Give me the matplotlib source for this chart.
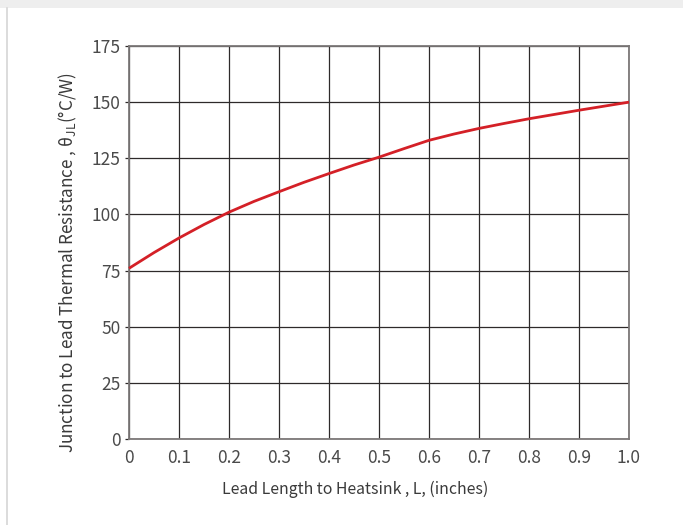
import matplotlib
matplotlib.use("Agg")
import matplotlib.pyplot as plt
from matplotlib.patches import Rectangle
from matplotlib.lines import Line2D

plt.rcParams['font.family'] = ['Noto Sans CJK SC', 'DejaVu Sans']
plt.rcParams['mathtext.fontset'] = 'custom'
plt.rcParams['mathtext.rm'] = 'Noto Sans CJK SC'
plt.rcParams['mathtext.it'] = 'Noto Sans CJK SC'

# Data
lead_length = [0.0, 0.05, 0.1, 0.15, 0.2, 0.25, 0.3, 0.35, 0.4, 0.45, 0.5,
               0.55, 0.6, 0.65, 0.7, 0.75, 0.8, 0.85, 0.9, 0.95, 1.0]
resistance = [76.0, 83.0, 89.5, 95.5, 101.0, 105.8, 110.1, 114.3, 118.2, 122.0, 125.5,
              129.3, 133.0, 135.8, 138.3, 140.5, 142.6, 144.5, 146.4, 148.2, 150.0]
x_ticks = [0, 0.1, 0.2, 0.3, 0.4, 0.5, 0.6, 0.7, 0.8, 0.9, 1.0]
x_tick_labels = ["0", "0.1", "0.2", "0.3", "0.4", "0.5", "0.6", "0.7", "0.8", "0.9", "1.0"]
y_ticks = [0, 25, 50, 75, 100, 125, 150, 175]
y_tick_labels = ["0", "25", "50", "75", "100", "125", "150", "175"]

W, H = 683, 525
fig = plt.figure(figsize=(W / 100, H / 100), dpi=100)

# page decorations (light gray top band and left rule)
fig.patches.append(Rectangle((0, 1 - 8 / H), 1, 8 / H, transform=fig.transFigure,
                             facecolor='#eeeeee', edgecolor='none', zorder=0))
fig.lines.append(Line2D([6.5 / W, 6.5 / W], [0, 1 - 8 / H], transform=fig.transFigure,
                        color='#d6d6d6', lw=1.2))

ax = fig.add_axes([129 / W, 1 - 439 / H, 500 / W, 393 / H])
txt = '#3a3a3a'
tick_txt = '#4a4a4a'

ax.plot(lead_length, resistance, color='#d42027', lw=2.0, solid_capstyle='butt', zorder=5,
        clip_on=False)

ax.set_xlim(0, 1.0)
ax.set_ylim(0, 175)
ax.set_xticks(x_ticks)
ax.set_xticklabels(x_tick_labels)
ax.set_yticks(y_ticks)
ax.set_yticklabels(y_tick_labels)

ax.grid(True, color='#2e2a2a', lw=0.9)
ax.set_axisbelow(True)
for s in ax.spines.values():
    s.set_color('#7c7878')
    s.set_linewidth(1.3)

ax.tick_params(axis='x', length=0, pad=7.5, labelsize=12.5, colors=tick_txt)
ax.tick_params(axis='y', length=3, width=0.9, color='#2e2a2a', pad=3, labelsize=12.5,
               labelcolor=tick_txt)

fig.text(355 / W, 1 - 489 / H, "Lead Length to Heatsink , L, (inches)", fontsize=11.4,
         color=txt, ha='center', va='center')
fig.text(68 / W, 1 - 263 / H, "Junction to Lead Thermal Resistance , θ$_{\\mathrm{JL}}$(°C/W)",
         fontsize=12.3, color=txt, ha='center', va='center', rotation=90)

fig.savefig("out.png", dpi=100, facecolor='white')
